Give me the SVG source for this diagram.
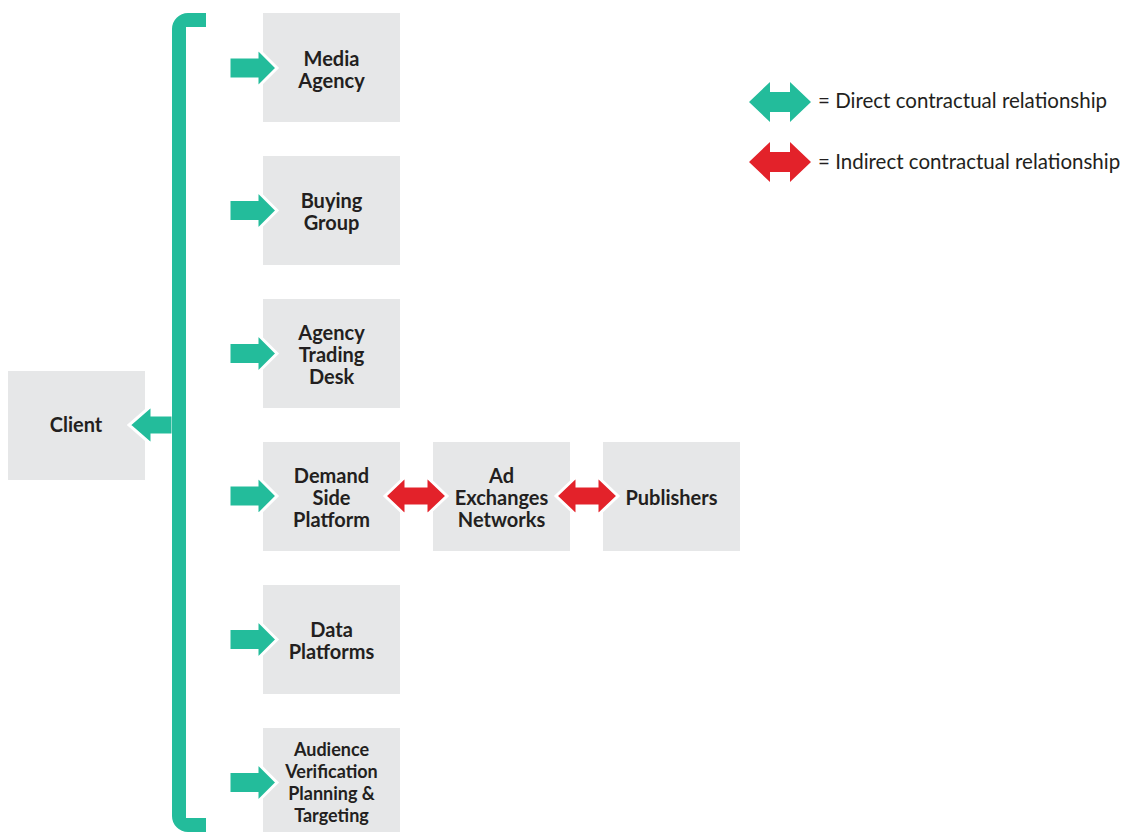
<svg xmlns="http://www.w3.org/2000/svg" width="1123" height="832" viewBox="0 0 1123 832">
<defs>
<style>
.box{fill:#e6e7e8}
.t{font-family:Lato,"Open Sans",sans-serif;font-weight:bold;font-size:20px;fill:#231f20;text-anchor:middle}
.ts{font-size:18px}
.lg{font-family:Lato,"Open Sans",sans-serif;font-size:20.5px;fill:#231f20}
.g{fill:#23bc9b}
.r{fill:#e3222a}
.w{stroke:#fff;stroke-width:3;stroke-linejoin:miter}
</style>
<path id="ga" d="M0 -11 H28 V-20 L48 0 L28 20 V11 H0 Z"/>
<path id="dbl" d="M0 0 L21 -20 V-10 H41 V-20 L62 0 L41 20 V10 H21 V20 Z"/>
</defs>
<g id="client"><rect class="box" x="8" y="371" width="137" height="109"/><text class="t" x="76" y="432">Client</text></g>
<g id="media-agency"><rect class="box" x="263" y="13" width="137" height="109"/><text class="t" x="331.5" y="66">Media</text><text class="t" x="331.5" y="88">Agency</text></g>
<g id="buying-group"><rect class="box" x="263" y="156" width="137" height="109"/><text class="t" x="331.5" y="208">Buying</text><text class="t" x="331.5" y="230">Group</text></g>
<g id="agency-trading-desk"><rect class="box" x="263" y="299" width="137" height="109"/><text class="t" x="331.5" y="340">Agency</text><text class="t" x="331.5" y="362">Trading</text><text class="t" x="331.5" y="384">Desk</text></g>
<g id="dsp"><rect class="box" x="263" y="442" width="137" height="109"/><text class="t" x="331.5" y="483">Demand</text><text class="t" x="331.5" y="505">Side</text><text class="t" x="331.5" y="527">Platform</text></g>
<g id="ad-exchanges"><rect class="box" x="433" y="442" width="137" height="109"/><text class="t" x="501.5" y="483">Ad</text><text class="t" x="501.5" y="505">Exchanges</text><text class="t" x="501.5" y="527">Networks</text></g>
<g id="publishers"><rect class="box" x="603" y="442" width="137" height="109"/><text class="t" x="671.5" y="505">Publishers</text></g>
<g id="data-platforms"><rect class="box" x="263" y="585" width="137" height="109"/><text class="t" x="331.5" y="637">Data</text><text class="t" x="331.5" y="659">Platforms</text></g>
<g id="audience"><rect class="box" x="263" y="728" width="137" height="109"/><text class="t ts" x="331.5" y="756">Audience</text><text class="t ts" x="331.5" y="778">Verification</text><text class="t ts" x="331.5" y="800">Planning &amp;</text><text class="t ts" x="331.5" y="822">Targeting</text></g>
<g id="connectors">
<path class="g" d="M206 13 H188 A16 16 0 0 0 172 29 V816 A16 16 0 0 0 188 832 H206 V818 H186 V27 H206 Z"/>
<use href="#ga" class="g w" transform="translate(229,68)"/>
<use href="#ga" class="g w" transform="translate(229,210.5)"/>
<use href="#ga" class="g w" transform="translate(229,353.5)"/>
<use href="#ga" class="g w" transform="translate(229,496)"/>
<use href="#ga" class="g w" transform="translate(229,639.5)"/>
<use href="#ga" class="g w" transform="translate(229,782.5)"/>
<path class="g w" d="M173 415 H152 V405 L129 425 L152 445 V435 H173 Z"/>
<rect class="g" x="172" y="413" width="14" height="24"/>
<use href="#dbl" class="r w" transform="translate(385,496)"/>
<use href="#dbl" class="r w" transform="translate(556,496)"/>
</g>
<g id="legend">
<use href="#dbl" class="g" transform="translate(749,102)"/>
<text class="lg" x="818" y="108">= Direct contractual relationship</text>
<use href="#dbl" class="r" transform="translate(749,162)"/>
<text class="lg" x="818" y="169">= Indirect contractual relationship</text>
</g>
</svg>
